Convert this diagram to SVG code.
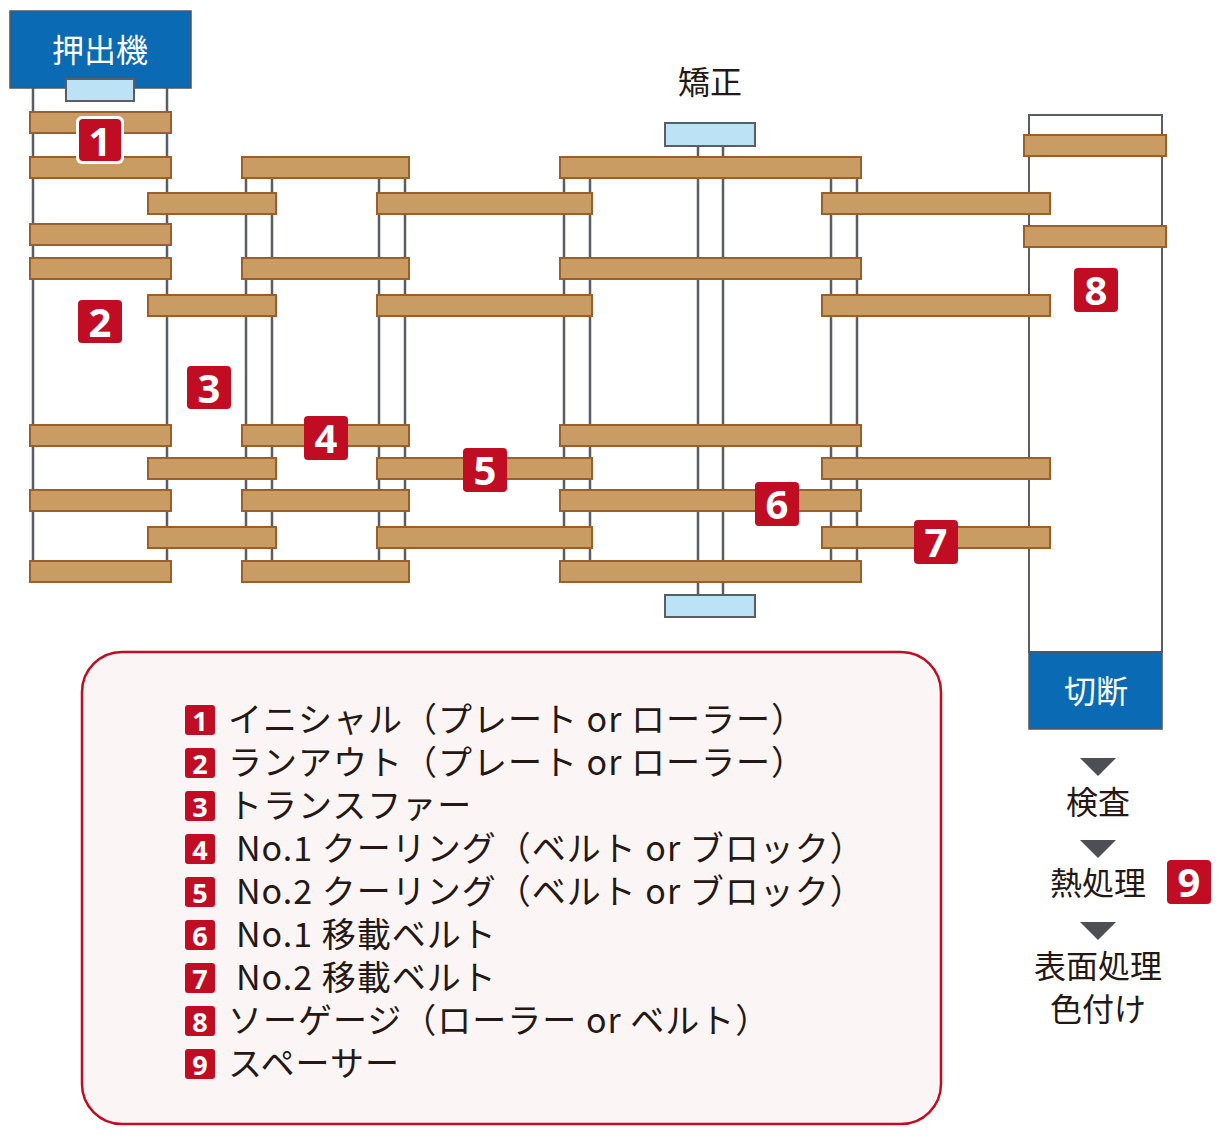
<svg xmlns="http://www.w3.org/2000/svg" width="1224" height="1144" viewBox="0 0 1224 1144">
<style>
.b{fill:#c89c62;stroke:#9a5f2a;stroke-width:2}
.v{stroke:#5a5d66;stroke-width:2.5;fill:none}
.lb{fill:#bce2f6;stroke:#5a5d66;stroke-width:2}
.bl{fill:#0a6ab4;stroke:#555;stroke-width:1.5}
.t{font-family:"Noto Sans CJK JP","Noto Sans",sans-serif;fill:#231815}
.bd{fill:#c10d24}
.bn{font-family:"Noto Sans","Liberation Sans",sans-serif;font-weight:bold;fill:#fff;text-anchor:middle}
</style>
<rect width="1224" height="1144" fill="#fff"/>
<g id="connectors">
<path class="v" d="M33 88V580M167 88V580M246 178V570M272 178V570M379 178V570M405 178V570M564 178V570M590 178V570M831 178V570M857 178V570M698 145V595M723 145V595"/>
<rect x="1029" y="115" width="133" height="537" fill="none" stroke="#5a5d66" stroke-width="2"/>
</g>
<g id="extruder"><rect class="bl" x="10" y="11" width="181" height="77"/><text class="t" x="100" y="62" font-size="32" style="fill:#fff" text-anchor="middle">押出機</text><rect class="lb" x="66" y="79" width="68" height="22"/></g>
<g id="bars">
<rect class="b" x="30" y="112" width="141" height="21"/><rect class="b" x="30" y="157" width="141" height="21"/><rect class="b" x="30" y="224" width="141" height="21"/><rect class="b" x="30" y="258" width="141" height="21"/><rect class="b" x="30" y="425" width="141" height="21"/><rect class="b" x="30" y="490" width="141" height="21"/><rect class="b" x="30" y="561" width="141" height="21"/>
<rect class="b" x="148" y="193" width="128" height="21"/><rect class="b" x="148" y="295" width="128" height="21"/><rect class="b" x="148" y="458" width="128" height="21"/><rect class="b" x="148" y="527" width="128" height="21"/>
<rect class="b" x="242" y="157" width="167" height="21"/><rect class="b" x="242" y="258" width="167" height="21"/><rect class="b" x="242" y="425" width="167" height="21"/><rect class="b" x="242" y="490" width="167" height="21"/><rect class="b" x="242" y="561" width="167" height="21"/>
<rect class="b" x="377" y="193" width="215" height="21"/><rect class="b" x="377" y="295" width="215" height="21"/><rect class="b" x="377" y="458" width="215" height="21"/><rect class="b" x="377" y="527" width="215" height="21"/>
<rect class="b" x="560" y="157" width="301" height="21"/><rect class="b" x="560" y="258" width="301" height="21"/><rect class="b" x="560" y="425" width="301" height="21"/><rect class="b" x="560" y="490" width="301" height="21"/><rect class="b" x="560" y="561" width="301" height="21"/>
<rect class="b" x="822" y="193" width="228" height="21"/><rect class="b" x="822" y="295" width="228" height="21"/><rect class="b" x="822" y="458" width="228" height="21"/><rect class="b" x="822" y="527" width="228" height="21"/>
<rect class="b" x="1024" y="135" width="142" height="21"/><rect class="b" x="1024" y="226" width="142" height="21"/>
</g>
<g id="straightener"><text class="t" x="710" y="94" font-size="32" text-anchor="middle">矯正</text><rect class="lb" x="665" y="123" width="90" height="23"/><rect class="lb" x="665" y="595" width="90" height="22"/></g>
<g id="cutter"><rect class="bl" x="1029" y="652" width="133" height="77"/><text class="t" x="1096" y="703" font-size="32" style="fill:#fff" text-anchor="middle">切断</text></g>
<g id="badges">
<rect x="76" y="116" width="48" height="48" rx="6" fill="#fff"/><rect class="bd" x="79" y="119" width="42" height="42" rx="4"/><text class="bn" x="100" y="156" font-size="40">1</text>
<rect class="bd" x="78" y="300" width="44" height="43" rx="4"/><text class="bn" x="100" y="337" font-size="40">2</text>
<rect class="bd" x="187" y="366" width="44" height="43" rx="4"/><text class="bn" x="209" y="403" font-size="40">3</text>
<rect class="bd" x="304" y="416" width="44" height="44" rx="4"/><text class="bn" x="326" y="453" font-size="40">4</text>
<rect class="bd" x="463" y="448" width="44" height="44" rx="4"/><text class="bn" x="485" y="485" font-size="40">5</text>
<rect class="bd" x="755" y="482" width="44" height="44" rx="4"/><text class="bn" x="777" y="519" font-size="40">6</text>
<rect class="bd" x="914" y="520" width="44" height="44" rx="4"/><text class="bn" x="936" y="557" font-size="40">7</text>
<rect class="bd" x="1074" y="268" width="44" height="44" rx="4"/><text class="bn" x="1096" y="305" font-size="40">8</text>
</g>
<g id="legend">
<rect x="82" y="652" width="859" height="472" rx="40" fill="#fbf5f5" stroke="#c10d24" stroke-width="2.5"/>
<g class="t" font-size="34" letter-spacing="1">
<text x="228" y="732">イニシャル（プレート or ローラー）</text>
<text x="228" y="775">ランアウト（プレート or ローラー）</text>
<text x="228" y="818">トランスファー</text>
<text x="236" y="861">No.1 クーリング（ベルト or ブロック）</text>
<text x="236" y="904">No.2 クーリング（ベルト or ブロック）</text>
<text x="236" y="947">No.1 移載ベルト</text>
<text x="236" y="990">No.2 移載ベルト</text>
<text x="228" y="1033">ソーゲージ（ローラー or ベルト）</text>
<text x="228" y="1076">スペーサー</text>
</g>
<g>
<rect class="bd" x="185" y="705" width="30" height="30" rx="3"/><text class="bn" x="200" y="731" font-size="27">1</text>
<rect class="bd" x="185" y="748" width="30" height="30" rx="3"/><text class="bn" x="200" y="774" font-size="27">2</text>
<rect class="bd" x="185" y="791" width="30" height="30" rx="3"/><text class="bn" x="200" y="817" font-size="27">3</text>
<rect class="bd" x="185" y="834" width="30" height="30" rx="3"/><text class="bn" x="200" y="860" font-size="27">4</text>
<rect class="bd" x="185" y="877" width="30" height="30" rx="3"/><text class="bn" x="200" y="903" font-size="27">5</text>
<rect class="bd" x="185" y="920" width="30" height="30" rx="3"/><text class="bn" x="200" y="946" font-size="27">6</text>
<rect class="bd" x="185" y="963" width="30" height="30" rx="3"/><text class="bn" x="200" y="989" font-size="27">7</text>
<rect class="bd" x="185" y="1006" width="30" height="30" rx="3"/><text class="bn" x="200" y="1032" font-size="27">8</text>
<rect class="bd" x="185" y="1049" width="30" height="30" rx="3"/><text class="bn" x="200" y="1075" font-size="27">9</text>
</g>
</g>
<g id="process">
<path fill="#4d4f55" d="M1080 758h36l-18 18zM1080 840h36l-18 18zM1080 922h36l-18 18z"/>
<g class="t" font-size="32" text-anchor="middle">
<text x="1098" y="814">検査</text>
<text x="1098" y="895">熱処理</text>
<text x="1098" y="978">表面処理</text>
<text x="1098" y="1021">色付け</text>
</g>
<rect class="bd" x="1167" y="860" width="44" height="44" rx="4"/><text class="bn" x="1189" y="897" font-size="40">9</text>
</g>
</svg>
